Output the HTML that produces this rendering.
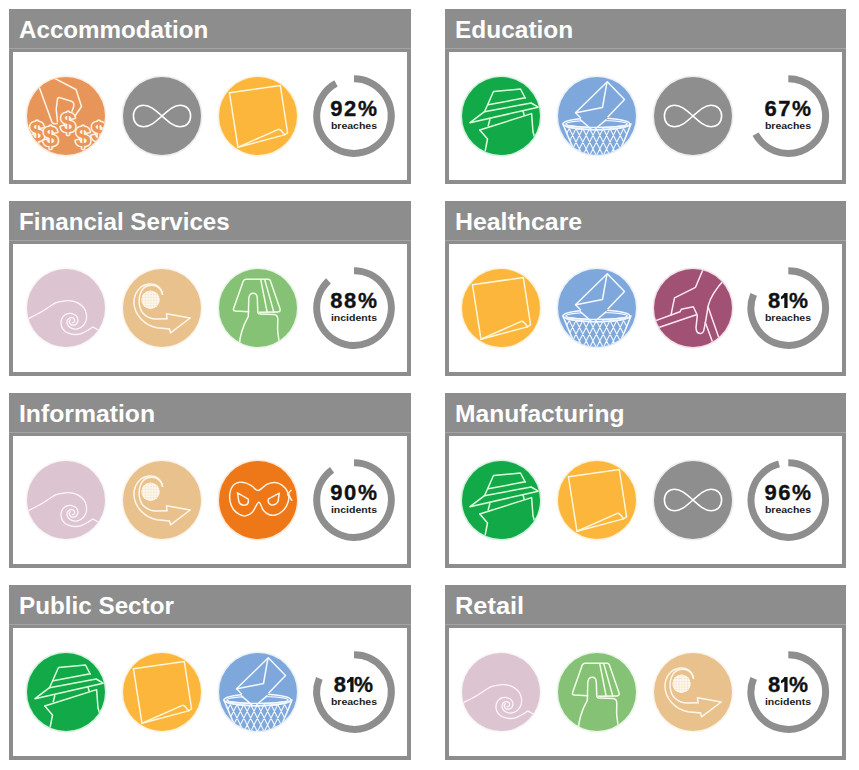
<!DOCTYPE html>
<html><head><meta charset="utf-8"><style>
html,body{margin:0;padding:0;background:#fff;}
body{width:859px;height:770px;position:relative;overflow:hidden;font-family:"Liberation Sans",sans-serif;}
.hd{position:absolute;height:39px;width:402px;background:#8d8d8d;}
.r .hd,.r.hd{width:401px;}
.hd span{position:absolute;left:9.9px;top:7.4px;font-size:24px;font-weight:bold;color:#fff;line-height:28px;white-space:nowrap;letter-spacing:0px;transform-origin:0 0;}
.r .hd span,.hd.r span{left:10.1px;}
.bx{position:absolute;width:394px;height:128px;border:4px solid #8d8d8d;}
.bx.r{width:393px;}
.ln.r{width:401px;}
.pct{position:absolute;width:80px;text-align:center;font-weight:bold;color:#111;white-space:nowrap;}
.pct .n{position:absolute;left:0;width:80px;font-size:22px;line-height:20px;letter-spacing:1.6px;-webkit-text-stroke:0.35px #111;}
.pct .one{display:inline-block;vertical-align:baseline;margin-left:-1.6px;}
.pct .pc{display:inline-block;transform:scaleX(0.97);transform-origin:0 0;margin-right:-2.2px;}
.pct .l{position:absolute;left:0;width:80px;font-size:9.4px;line-height:10px;transform:scaleX(1.12);color:#1a1a1a;}
svg.rg{position:absolute;left:0;top:0;}
.ln{position:absolute;width:402px;height:1px;background:#a4a4a4;}
.ci{position:absolute;width:78px;height:78px;border-radius:50%;overflow:hidden;}
.ci svg{position:absolute;left:0;top:0;}
.dl text{fill:#e8955a;stroke:#fff3e6;}
</style></head><body>

<div class="hd" style="left:9px;top:9px"><span style="transform:scaleX(1.007)">Accommodation</span></div>
<div class="bx" style="left:9px;top:48px"></div><div class="ln" style="left:9px;top:48px"></div>
<div class="ci ic-hand" style="left:27.00px;top:76.80px;background:#e8955a;box-shadow:0 0 0 1.6px rgba(232,149,90,0.16)"><svg width="78" height="78" viewBox="-5.0 -3.0 780 780"><g fill="none" stroke="#fff3e6" stroke-linejoin="round" stroke-linecap="round"><path d="M110,80 L245,450 Q258,472 298,462" stroke-width="15" /><path d="M262,5 L485,122 L540,292 L478,382" stroke-width="15" /><path d="M300,445 L287,320 L300,215 Q306,198 326,204 L440,240 Q470,252 462,292 L445,340" stroke-width="15" /><g class="dl"><text x="95" y="640" font-family="Liberation Sans" font-weight="bold" font-size="270" text-anchor="middle" stroke-width="30" paint-order="stroke">$</text><text x="230" y="690" font-family="Liberation Sans" font-weight="bold" font-size="270" text-anchor="middle" stroke-width="30" paint-order="stroke">$</text><text x="555" y="690" font-family="Liberation Sans" font-weight="bold" font-size="270" text-anchor="middle" stroke-width="30" paint-order="stroke">$</text><text x="712" y="640" font-family="Liberation Sans" font-weight="bold" font-size="270" text-anchor="middle" stroke-width="30" paint-order="stroke">$</text><text x="405" y="545" font-family="Liberation Sans" font-weight="bold" font-size="270" text-anchor="middle" stroke-width="30" paint-order="stroke">$</text></g></g></svg></div>
<div class="ci ic-inf" style="left:123.00px;top:76.80px;background:#8e8e8e;box-shadow:0 0 0 1.6px rgba(142,142,142,0.16)"><svg width="78" height="78" viewBox="-10.0 -3.0 780 780"><g fill="none" stroke="#ffffff" stroke-linejoin="round" stroke-linecap="round"><path d="M380,387 C450,325 500,279 560,279 C625,279 666,325 666,387 C666,449 625,495 560,495 C500,495 450,449 380,387 C310,325 260,279 195,279 C135,279 94,325 94,387 C94,449 135,495 195,495 C260,495 310,449 380,387 Z" stroke-width="16" /></g></svg></div>
<div class="ci ic-paper" style="left:218.70px;top:76.80px;background:#fbb63b;box-shadow:0 0 0 1.6px rgba(251,182,59,0.16)"><svg width="78" height="78" viewBox="-3.0 -3.0 780 780"><g fill="none" stroke="#fff6dc" stroke-linejoin="round" stroke-linecap="round"><path d="M101,154 L610,82 L683,555 L651,576 L187,700 Z" stroke-width="15" /><path d="M187,700 L596,518 Q628,530 651,576" stroke-width="15" /></g></svg></div>
<div class="pct" style="left:313.5px;top:9px"><div class="n" style="top:90.1px">92<span class="pc">%</span></div><div class="l" style="top:111.6px">breaches</div></div>
<div class="hd r" style="left:445px;top:9px"><span style="transform:scaleX(1.019)">Education</span></div>
<div class="bx r" style="left:445px;top:48px"></div><div class="ln r" style="left:445px;top:48px"></div>
<div class="ci ic-spy" style="left:462.00px;top:76.80px;background:#12aa48;box-shadow:0 0 0 1.6px rgba(18,170,72,0.16)"><svg width="78" height="78" viewBox="-10.0 -10.0 780 780"><g fill="none" stroke="#dcffdc" stroke-linejoin="round" stroke-linecap="round"><path d="M215,337 L305,135 L575,110 L622,200" stroke-width="15" /><path d="M252,268 L622,198" stroke-width="15" /><path d="M70,447 L215,337 L682,250 L752,292 Z" stroke-width="15" /><path d="M600,330 L612,372" stroke-width="15" /><path d="M268,418 L252,478" stroke-width="15" /><path d="M168,520 L686,356 L700,540 L716,590" stroke-width="15" /><path d="M168,520 L245,610 L222,730" stroke-width="15" /></g></svg></div>
<div class="ci ic-env" style="left:558.00px;top:76.80px;background:#7ea7dc;box-shadow:0 0 0 1.6px rgba(126,167,220,0.16)"><svg width="78" height="78" viewBox="-10.0 -3.0 780 780"><g fill="none" stroke="#f4f8ff" stroke-linejoin="round" stroke-linecap="round"><path d="M102.0,512 L246.0,800 M102.0,512 L81.0,554 M170.0,512 L314.0,800 M170.0,512 L112.0,628 M238.0,512 L382.0,800 M238.0,512 L144.0,700 M306.0,512 L450.0,800 M306.0,512 L176.0,772 M374.0,512 L518.0,800 M374.0,512 L230.0,800 M442.0,512 L578.0,784 M442.0,512 L298.0,800 M510.0,512 L611.0,714 M510.0,512 L366.0,800 M578.0,512 L642.0,640 M578.0,512 L434.0,800 M646.0,512 L674.0,568 M646.0,512 L502.0,800 M595.0,750 L570.0,800" stroke-width="11" /><path d="M40.0,466 L47.8,486 L55.7,506 L63.7,526 L71.8,546 L80.0,566 L88.3,586 L96.7,606 L105.2,626 L113.8,646 L122.5,666 L131.3,686 L140.1,706 L149.1,726 L158.2,746 L167.3,766 L176.6,786" stroke-width="15" /><path d="M720.0,466 L712.2,486 L704.3,506 L696.3,526 L688.2,546 L680.0,566 L671.7,586 L663.3,606 L654.8,626 L646.2,646 L637.5,666 L628.7,686 L619.9,706 L610.9,726 L601.8,746 L592.7,766 L583.4,786" stroke-width="15" /><path d="M40,466 A334,58 0 1 0 708,466 A334,58 0 1 0 40,466 Z" stroke-width="15" /><path d="M70,466 A305,34 0 1 0 680,466 A305,34 0 1 0 70,466 Z" stroke-width="12" /><path d="M215,402 L165,355 L483,45 L655,222 L490,395 L470,426 L367,515 L314,515 L215,426 Z" fill="#7ea7dc" stroke="none"/><path d="M215,404 L165,355 L483,45 L655,222 L490,395" stroke-width="15" /><path d="M170,355 L435,302 L478,58" stroke-width="15" /><path d="M215,426 L318,515" stroke-width="15" /><path d="M470,426 L365,515" stroke-width="15" /><path d="M40,466 A334,58 0 0 0 708,466" stroke-width="15" /><path d="M70,466 A305,34 0 0 0 680,466" stroke-width="12" /></g></svg></div>
<div class="ci ic-inf" style="left:653.50px;top:76.80px;background:#8e8e8e;box-shadow:0 0 0 1.6px rgba(142,142,142,0.16)"><svg width="78" height="78" viewBox="-10.0 -3.0 780 780"><g fill="none" stroke="#ffffff" stroke-linejoin="round" stroke-linecap="round"><path d="M380,387 C450,325 500,279 560,279 C625,279 666,325 666,387 C666,449 625,495 560,495 C500,495 450,449 380,387 C310,325 260,279 195,279 C135,279 94,325 94,387 C94,449 135,495 195,495 C260,495 310,449 380,387 Z" stroke-width="16" /></g></svg></div>
<div class="pct" style="left:747.8px;top:9px"><div class="n" style="top:90.1px">67<span class="pc">%</span></div><div class="l" style="top:111.6px">breaches</div></div>
<div class="hd" style="left:9px;top:201px"><span style="transform:scaleX(1.006)">Financial Services</span></div>
<div class="bx" style="left:9px;top:240px"></div><div class="ln" style="left:9px;top:240px"></div>
<div class="ci ic-wave" style="left:27.00px;top:268.80px;background:#dcc4d1;box-shadow:0 0 0 1.6px rgba(220,196,209,0.16)"><svg width="78" height="78" viewBox="-5.0 -3.0 780 780"><g fill="none" stroke="#fff4f8" stroke-linejoin="round" stroke-linecap="round"><path d="M5.0,495.0 C29.2,482.5 104.2,446.7 150.0,420.0 C195.8,393.3 241.8,352.4 280.0,335.0 C318.2,317.6 356.8,318.9 379.5,315.4 C402.2,311.8 404.3,313.2 416.4,313.7 C428.5,314.1 440.5,315.9 451.9,318.2 C463.4,320.6 474.6,323.8 485.2,327.9 C495.8,332.0 505.9,337.1 515.3,342.9 C524.7,348.7 533.6,355.3 541.6,362.5 C549.5,369.6 557.1,377.3 563.2,385.7 C569.4,394.1 574.4,403.5 578.5,412.7 C582.5,422.0 585.4,431.7 587.5,441.2 C589.6,450.7 590.6,460.3 590.9,469.6 C591.1,478.9 590.4,488.1 589.0,496.8 C587.5,505.5 585.2,513.9 582.3,521.8 C579.3,529.6 575.5,537.1 571.3,543.8 C567.1,550.6 562.2,556.8 557.1,562.3 C552.0,567.8 546.3,572.6 540.6,576.7 C534.8,580.8 528.6,584.1 522.6,586.9 C516.7,589.8 510.8,592.1 505.0,593.8 C499.2,595.6 493.4,596.8 487.7,597.4 C482.1,598.0 476.5,598.0 471.1,597.5 C465.8,597.0 460.7,595.8 455.9,594.4 C451.1,593.0 446.7,590.9 442.5,589.3 C438.3,587.6 434.3,586.4 430.7,584.5 C427.0,582.6 423.5,580.3 420.4,577.9 C417.3,575.4 414.4,572.7 412.0,569.9 C409.5,567.0 407.4,563.9 405.5,560.8 C403.6,557.8 401.9,554.8 400.5,551.8 C399.1,548.7 398.0,545.6 397.1,542.5 C396.3,539.3 395.8,536.2 395.5,533.1 C395.3,530.0 395.4,526.9 395.7,523.9 C396.0,521.0 396.6,518.1 397.4,515.3 C398.1,512.6 399.0,509.9 400.1,507.5 C401.3,505.0 402.6,502.6 404.1,500.5 C405.6,498.3 407.3,496.3 409.1,494.6 C410.9,492.8 412.9,491.3 414.9,489.9 C416.8,488.5 418.9,487.2 420.9,486.2 C423.0,485.2 425.2,484.3 427.3,483.7 C429.4,483.0 431.6,482.6 433.8,482.4 C435.9,482.1 438.0,482.1 440.1,482.3 C442.2,482.4 444.2,482.8 446.2,483.2 C448.1,483.6 450.0,484.1 451.8,484.8 C453.7,485.5 455.4,486.3 457.0,487.3 C458.6,488.3 460.1,489.4 461.5,490.6 C462.9,491.8 464.1,493.1 465.3,494.5 C466.4,495.9 467.3,497.4 468.2,498.9 C469.0,500.4 469.6,502.0 470.2,503.6 C470.7,505.2 471.0,506.9 471.2,508.5 C471.5,510.1 471.5,511.7 471.5,513.3 C471.4,514.9 471.1,516.4 470.8,517.9 C470.4,519.4 469.8,520.8 469.1,522.1 C468.5,523.4 467.7,524.7 466.8,525.8 C466.0,527.0 465.0,528.0 464.0,528.9 C463.0,529.8 462.0,530.6 460.9,531.3 C459.7,531.9 458.5,532.4 457.4,532.8 C456.2,533.2 455.0,533.4 453.8,533.5 C452.6,533.7 451.5,533.7 450.4,533.5 C449.3,533.4 447.8,533.0 447.2,532.9" stroke-width="13" /><path d="M730,618 L695,600 L651.7,576.3 C645.9,580.4 628.3,593.9 617.3,601.0 C606.3,608.2 595.6,613.8 585.7,619.2 C575.8,624.7 566.8,629.4 557.7,633.7 C548.6,637.9 540.0,641.9 531.1,644.7 C522.2,647.4 513.1,649.0 504.3,650.2 C495.6,651.4 487.0,652.2 478.7,652.0 C470.3,651.8 462.1,650.4 454.3,649.3 C446.4,648.2 438.9,646.9 431.5,645.2 C424.1,643.6 416.9,641.8 410.0,639.2 C403.0,636.6 396.3,633.4 390.0,629.7 C383.8,626.0 377.8,621.7 372.3,617.0 C366.9,612.3 361.8,607.1 357.4,601.5 C353.1,596.0 349.6,589.7 346.5,583.4 C343.4,577.2 341.0,570.7 339.1,564.2 C337.2,557.6 336.0,550.9 335.3,544.3 C334.7,537.8 334.5,531.1 335.1,524.7 C335.7,518.3 337.0,511.9 338.9,505.8 C340.7,499.8 343.2,494.0 346.0,488.6 C348.9,483.2 352.2,478.1 355.9,473.5 C359.5,468.9 363.6,464.7 367.8,460.9 C372.1,457.2 376.7,453.8 381.4,451.1 C386.1,448.4 391.2,446.3 396.2,444.6 C401.1,442.9 406.2,441.7 411.2,441.1 C416.1,440.4 421.1,440.2 425.9,440.4 C430.7,440.7 435.4,441.7 439.8,442.5 C444.2,443.3 448.4,444.3 452.5,445.5 C456.6,446.6 460.6,447.9 464.3,449.6 C468.1,451.2 471.7,453.3 475.0,455.5 C478.3,457.8 481.4,460.4 484.1,463.1 C486.9,465.9 489.4,468.9 491.7,471.9 C493.9,475.0 496.0,478.2 497.7,481.5 C499.4,484.8 500.8,488.2 501.8,491.7 C502.9,495.2 503.6,498.8 504.1,502.3 C504.5,505.8 504.7,509.4 504.4,512.8 C504.1,516.3 503.4,519.8 502.5,523.0 C501.5,526.3 500.2,529.5 498.6,532.4 C497.1,535.3 495.3,538.1 493.4,540.6 C491.4,543.1 489.2,545.4 486.9,547.4 C484.6,549.5 482.1,551.3 479.6,552.8 C477.1,554.4 474.4,555.6 471.7,556.6 C469.1,557.6 466.3,558.4 463.6,558.8 C460.9,559.3 458.2,559.5 455.6,559.5 C453.0,559.5 450.4,559.2 447.9,558.7 C445.5,558.2 443.1,557.5 440.8,556.6 C438.6,555.7 436.5,554.6 434.6,553.3 C432.7,552.1 430.9,550.7 429.3,549.2 C427.7,547.7 426.3,546.0 425.1,544.3 C423.9,542.7 423.0,540.9 422.1,539.1 C421.2,537.4 420.4,535.7 419.9,533.9 C419.3,532.2 419.0,530.4 418.8,528.7 C418.5,527.0 418.5,525.2 418.6,523.6 C418.7,521.9 419.1,520.3 419.4,518.8 C419.8,517.3 420.3,515.8 420.8,514.5 C421.3,513.1 422.0,511.8 422.7,510.6 C423.4,509.4 424.2,508.3 425.1,507.3 C426.0,506.3 427.5,505.1 428.0,504.7" stroke-width="13" /></g></svg></div>
<div class="ci ic-arrow" style="left:123.00px;top:268.80px;background:#e8c18c;box-shadow:0 0 0 1.6px rgba(232,193,140,0.16)"><svg width="78" height="78" viewBox="-10.0 -3.0 780 780"><g fill="none" stroke="#fff6e8" stroke-linejoin="round" stroke-linecap="round"><circle cx="265" cy="305" r="92" fill="#fffaf2" stroke="none"/><path d="M185,279.4 L185,330.6 M239.4,225 L290.6,225 M213,239.0 L213,371.0 M199.0,253 L331.0,253 M241,224.5 L241,385.5 M184.5,281 L345.5,281 M269,221.1 L269,388.9 M181.1,309 L348.9,309 M297,227.3 L297,382.7 M187.3,337 L342.7,337 M325,246.2 L325,363.8 M206.2,365 L323.8,365" stroke="#f1dcc0" stroke-width="5"/><path d="M385,250 C370,170 300,150 240,165 C170,185 140,270 155,360 C170,450 240,495 320,497 L430,495" stroke-width="15" /><path d="M385,250 C375,180 320,140 250,148 C150,158 95,250 100,340 C105,450 200,560 330,585 L455,597" stroke-width="15" /><path d="M430,495 L425,445 L662,487 L465,635 L455,597" stroke-width="15" /></g></svg></div>
<div class="ci ic-card" style="left:218.70px;top:268.80px;background:#85c275;box-shadow:0 0 0 1.6px rgba(133,194,117,0.16)"><svg width="78" height="78" viewBox="-3.0 -3.0 780 780"><g fill="none" stroke="#f2ffe8" stroke-linejoin="round" stroke-linecap="round"><path d="M295,425 L162,418 Q135,415 143,392 L240,118 Q248,100 268,100 L490,100 Q505,100 511,116 L607,395 Q614,425 588,426 L400,430" stroke-width="15" /><path d="M415,106 L478,425" stroke-width="15" /><path d="M455,106 L545,428" stroke-width="15" /><path d="M200,760 C205,650 240,560 290,470 L295,290 Q300,240 340,240 Q378,240 380,290 L385,430 Q388,448 410,448 L548,452 Q585,455 585,500 L583,590 Q585,650 605,760" stroke-width="15" /></g></svg></div>
<div class="pct" style="left:313.5px;top:201px"><div class="n" style="top:90.1px">88<span class="pc">%</span></div><div class="l" style="top:111.6px">incidents</div></div>
<div class="hd r" style="left:445px;top:201px"><span style="transform:scaleX(1.036)">Healthcare</span></div>
<div class="bx r" style="left:445px;top:240px"></div><div class="ln r" style="left:445px;top:240px"></div>
<div class="ci ic-paper" style="left:462.00px;top:268.80px;background:#fbb63b;box-shadow:0 0 0 1.6px rgba(251,182,59,0.16)"><svg width="78" height="78" viewBox="-3.0 -3.0 780 780"><g fill="none" stroke="#fff6dc" stroke-linejoin="round" stroke-linecap="round"><path d="M101,154 L610,82 L683,555 L651,576 L187,700 Z" stroke-width="15" /><path d="M187,700 L596,518 Q628,530 651,576" stroke-width="15" /></g></svg></div>
<div class="ci ic-env" style="left:558.00px;top:268.80px;background:#7ea7dc;box-shadow:0 0 0 1.6px rgba(126,167,220,0.16)"><svg width="78" height="78" viewBox="-10.0 -3.0 780 780"><g fill="none" stroke="#f4f8ff" stroke-linejoin="round" stroke-linecap="round"><path d="M102.0,512 L246.0,800 M102.0,512 L81.0,554 M170.0,512 L314.0,800 M170.0,512 L112.0,628 M238.0,512 L382.0,800 M238.0,512 L144.0,700 M306.0,512 L450.0,800 M306.0,512 L176.0,772 M374.0,512 L518.0,800 M374.0,512 L230.0,800 M442.0,512 L578.0,784 M442.0,512 L298.0,800 M510.0,512 L611.0,714 M510.0,512 L366.0,800 M578.0,512 L642.0,640 M578.0,512 L434.0,800 M646.0,512 L674.0,568 M646.0,512 L502.0,800 M595.0,750 L570.0,800" stroke-width="11" /><path d="M40.0,466 L47.8,486 L55.7,506 L63.7,526 L71.8,546 L80.0,566 L88.3,586 L96.7,606 L105.2,626 L113.8,646 L122.5,666 L131.3,686 L140.1,706 L149.1,726 L158.2,746 L167.3,766 L176.6,786" stroke-width="15" /><path d="M720.0,466 L712.2,486 L704.3,506 L696.3,526 L688.2,546 L680.0,566 L671.7,586 L663.3,606 L654.8,626 L646.2,646 L637.5,666 L628.7,686 L619.9,706 L610.9,726 L601.8,746 L592.7,766 L583.4,786" stroke-width="15" /><path d="M40,466 A334,58 0 1 0 708,466 A334,58 0 1 0 40,466 Z" stroke-width="15" /><path d="M70,466 A305,34 0 1 0 680,466 A305,34 0 1 0 70,466 Z" stroke-width="12" /><path d="M215,402 L165,355 L483,45 L655,222 L490,395 L470,426 L367,515 L314,515 L215,426 Z" fill="#7ea7dc" stroke="none"/><path d="M215,404 L165,355 L483,45 L655,222 L490,395" stroke-width="15" /><path d="M170,355 L435,302 L478,58" stroke-width="15" /><path d="M215,426 L318,515" stroke-width="15" /><path d="M470,426 L365,515" stroke-width="15" /><path d="M40,466 A334,58 0 0 0 708,466" stroke-width="15" /><path d="M70,466 A305,34 0 0 0 680,466" stroke-width="12" /></g></svg></div>
<div class="ci ic-grab" style="left:653.50px;top:268.80px;background:#a15174;box-shadow:0 0 0 1.6px rgba(161,81,116,0.16)"><svg width="78" height="78" viewBox="-5.0 -3.0 780 780"><g fill="none" stroke="#ffe8f2" stroke-linejoin="round" stroke-linecap="round"><path d="M490,-10 L410,180 L200,285 L165,455" stroke-width="15" /><path d="M-10,522 L255,425 L268,400 L388,375 L425,452 L428,464 L415,583 Q418,642 458,642 Q492,640 495,600 L512,515 L537,363 Q565,250 700,100" stroke-width="15" /><path d="M20,590 L418,455" stroke-width="15" /><path d="M537,380 L645,690" stroke-width="15" /><path d="M508,532 L585,740" stroke-width="15" /></g></svg></div>
<div class="pct" style="left:747.8px;top:201px"><div class="n" style="top:90.1px">8<svg class="one" width="8.4" height="15.0" viewBox="0 0 8.4 15.0"><path d="M4.3,0 L7.6,0 L7.6,15.0 L4.3,15.0 L4.3,4.6 Q2.9,5.7 1.0,6.3 L1.0,3.7 Q3.2,2.6 4.3,0 Z" fill="#111"/></svg><span class="pc">%</span></div><div class="l" style="top:111.6px">breaches</div></div>
<div class="hd" style="left:9px;top:393px"><span style="transform:scaleX(1.031)">Information</span></div>
<div class="bx" style="left:9px;top:432px"></div><div class="ln" style="left:9px;top:432px"></div>
<div class="ci ic-wave" style="left:27.00px;top:460.80px;background:#dcc4d1;box-shadow:0 0 0 1.6px rgba(220,196,209,0.16)"><svg width="78" height="78" viewBox="-5.0 -3.0 780 780"><g fill="none" stroke="#fff4f8" stroke-linejoin="round" stroke-linecap="round"><path d="M5.0,495.0 C29.2,482.5 104.2,446.7 150.0,420.0 C195.8,393.3 241.8,352.4 280.0,335.0 C318.2,317.6 356.8,318.9 379.5,315.4 C402.2,311.8 404.3,313.2 416.4,313.7 C428.5,314.1 440.5,315.9 451.9,318.2 C463.4,320.6 474.6,323.8 485.2,327.9 C495.8,332.0 505.9,337.1 515.3,342.9 C524.7,348.7 533.6,355.3 541.6,362.5 C549.5,369.6 557.1,377.3 563.2,385.7 C569.4,394.1 574.4,403.5 578.5,412.7 C582.5,422.0 585.4,431.7 587.5,441.2 C589.6,450.7 590.6,460.3 590.9,469.6 C591.1,478.9 590.4,488.1 589.0,496.8 C587.5,505.5 585.2,513.9 582.3,521.8 C579.3,529.6 575.5,537.1 571.3,543.8 C567.1,550.6 562.2,556.8 557.1,562.3 C552.0,567.8 546.3,572.6 540.6,576.7 C534.8,580.8 528.6,584.1 522.6,586.9 C516.7,589.8 510.8,592.1 505.0,593.8 C499.2,595.6 493.4,596.8 487.7,597.4 C482.1,598.0 476.5,598.0 471.1,597.5 C465.8,597.0 460.7,595.8 455.9,594.4 C451.1,593.0 446.7,590.9 442.5,589.3 C438.3,587.6 434.3,586.4 430.7,584.5 C427.0,582.6 423.5,580.3 420.4,577.9 C417.3,575.4 414.4,572.7 412.0,569.9 C409.5,567.0 407.4,563.9 405.5,560.8 C403.6,557.8 401.9,554.8 400.5,551.8 C399.1,548.7 398.0,545.6 397.1,542.5 C396.3,539.3 395.8,536.2 395.5,533.1 C395.3,530.0 395.4,526.9 395.7,523.9 C396.0,521.0 396.6,518.1 397.4,515.3 C398.1,512.6 399.0,509.9 400.1,507.5 C401.3,505.0 402.6,502.6 404.1,500.5 C405.6,498.3 407.3,496.3 409.1,494.6 C410.9,492.8 412.9,491.3 414.9,489.9 C416.8,488.5 418.9,487.2 420.9,486.2 C423.0,485.2 425.2,484.3 427.3,483.7 C429.4,483.0 431.6,482.6 433.8,482.4 C435.9,482.1 438.0,482.1 440.1,482.3 C442.2,482.4 444.2,482.8 446.2,483.2 C448.1,483.6 450.0,484.1 451.8,484.8 C453.7,485.5 455.4,486.3 457.0,487.3 C458.6,488.3 460.1,489.4 461.5,490.6 C462.9,491.8 464.1,493.1 465.3,494.5 C466.4,495.9 467.3,497.4 468.2,498.9 C469.0,500.4 469.6,502.0 470.2,503.6 C470.7,505.2 471.0,506.9 471.2,508.5 C471.5,510.1 471.5,511.7 471.5,513.3 C471.4,514.9 471.1,516.4 470.8,517.9 C470.4,519.4 469.8,520.8 469.1,522.1 C468.5,523.4 467.7,524.7 466.8,525.8 C466.0,527.0 465.0,528.0 464.0,528.9 C463.0,529.8 462.0,530.6 460.9,531.3 C459.7,531.9 458.5,532.4 457.4,532.8 C456.2,533.2 455.0,533.4 453.8,533.5 C452.6,533.7 451.5,533.7 450.4,533.5 C449.3,533.4 447.8,533.0 447.2,532.9" stroke-width="13" /><path d="M730,618 L695,600 L651.7,576.3 C645.9,580.4 628.3,593.9 617.3,601.0 C606.3,608.2 595.6,613.8 585.7,619.2 C575.8,624.7 566.8,629.4 557.7,633.7 C548.6,637.9 540.0,641.9 531.1,644.7 C522.2,647.4 513.1,649.0 504.3,650.2 C495.6,651.4 487.0,652.2 478.7,652.0 C470.3,651.8 462.1,650.4 454.3,649.3 C446.4,648.2 438.9,646.9 431.5,645.2 C424.1,643.6 416.9,641.8 410.0,639.2 C403.0,636.6 396.3,633.4 390.0,629.7 C383.8,626.0 377.8,621.7 372.3,617.0 C366.9,612.3 361.8,607.1 357.4,601.5 C353.1,596.0 349.6,589.7 346.5,583.4 C343.4,577.2 341.0,570.7 339.1,564.2 C337.2,557.6 336.0,550.9 335.3,544.3 C334.7,537.8 334.5,531.1 335.1,524.7 C335.7,518.3 337.0,511.9 338.9,505.8 C340.7,499.8 343.2,494.0 346.0,488.6 C348.9,483.2 352.2,478.1 355.9,473.5 C359.5,468.9 363.6,464.7 367.8,460.9 C372.1,457.2 376.7,453.8 381.4,451.1 C386.1,448.4 391.2,446.3 396.2,444.6 C401.1,442.9 406.2,441.7 411.2,441.1 C416.1,440.4 421.1,440.2 425.9,440.4 C430.7,440.7 435.4,441.7 439.8,442.5 C444.2,443.3 448.4,444.3 452.5,445.5 C456.6,446.6 460.6,447.9 464.3,449.6 C468.1,451.2 471.7,453.3 475.0,455.5 C478.3,457.8 481.4,460.4 484.1,463.1 C486.9,465.9 489.4,468.9 491.7,471.9 C493.9,475.0 496.0,478.2 497.7,481.5 C499.4,484.8 500.8,488.2 501.8,491.7 C502.9,495.2 503.6,498.8 504.1,502.3 C504.5,505.8 504.7,509.4 504.4,512.8 C504.1,516.3 503.4,519.8 502.5,523.0 C501.5,526.3 500.2,529.5 498.6,532.4 C497.1,535.3 495.3,538.1 493.4,540.6 C491.4,543.1 489.2,545.4 486.9,547.4 C484.6,549.5 482.1,551.3 479.6,552.8 C477.1,554.4 474.4,555.6 471.7,556.6 C469.1,557.6 466.3,558.4 463.6,558.8 C460.9,559.3 458.2,559.5 455.6,559.5 C453.0,559.5 450.4,559.2 447.9,558.7 C445.5,558.2 443.1,557.5 440.8,556.6 C438.6,555.7 436.5,554.6 434.6,553.3 C432.7,552.1 430.9,550.7 429.3,549.2 C427.7,547.7 426.3,546.0 425.1,544.3 C423.9,542.7 423.0,540.9 422.1,539.1 C421.2,537.4 420.4,535.7 419.9,533.9 C419.3,532.2 419.0,530.4 418.8,528.7 C418.5,527.0 418.5,525.2 418.6,523.6 C418.7,521.9 419.1,520.3 419.4,518.8 C419.8,517.3 420.3,515.8 420.8,514.5 C421.3,513.1 422.0,511.8 422.7,510.6 C423.4,509.4 424.2,508.3 425.1,507.3 C426.0,506.3 427.5,505.1 428.0,504.7" stroke-width="13" /></g></svg></div>
<div class="ci ic-arrow" style="left:123.00px;top:460.80px;background:#e8c18c;box-shadow:0 0 0 1.6px rgba(232,193,140,0.16)"><svg width="78" height="78" viewBox="-10.0 -3.0 780 780"><g fill="none" stroke="#fff6e8" stroke-linejoin="round" stroke-linecap="round"><circle cx="265" cy="305" r="92" fill="#fffaf2" stroke="none"/><path d="M185,279.4 L185,330.6 M239.4,225 L290.6,225 M213,239.0 L213,371.0 M199.0,253 L331.0,253 M241,224.5 L241,385.5 M184.5,281 L345.5,281 M269,221.1 L269,388.9 M181.1,309 L348.9,309 M297,227.3 L297,382.7 M187.3,337 L342.7,337 M325,246.2 L325,363.8 M206.2,365 L323.8,365" stroke="#f1dcc0" stroke-width="5"/><path d="M385,250 C370,170 300,150 240,165 C170,185 140,270 155,360 C170,450 240,495 320,497 L430,495" stroke-width="15" /><path d="M385,250 C375,180 320,140 250,148 C150,158 95,250 100,340 C105,450 200,560 330,585 L455,597" stroke-width="15" /><path d="M430,495 L425,445 L662,487 L465,635 L455,597" stroke-width="15" /></g></svg></div>
<div class="ci ic-mask" style="left:218.70px;top:460.80px;background:#ee7718;box-shadow:0 0 0 1.6px rgba(238,119,24,0.16)"><svg width="78" height="78" viewBox="-3.0 -3.0 780 780"><g fill="none" stroke="#fff0e0" stroke-linejoin="round" stroke-linecap="round"><path d="M390.0,292.0 C365.0,295.7 350.0,262.3 330.0,250.0 C310.0,237.7 291.7,224.7 270.0,218.0 C248.3,211.3 221.7,206.3 200.0,210.0 C178.3,213.7 155.3,223.3 140.0,240.0 C124.7,256.7 113.3,283.3 108.0,310.0 C102.7,336.7 102.7,371.7 108.0,400.0 C113.3,428.3 124.7,458.3 140.0,480.0 C155.3,501.7 179.2,519.2 200.0,530.0 C220.8,540.8 243.3,548.3 265.0,545.0 C286.7,541.7 308.3,532.5 330.0,510.0 C351.7,487.5 376.7,413.3 395.0,410.0 C413.3,406.7 422.5,469.2 440.0,490.0 C457.5,510.8 478.3,527.5 500.0,535.0 C521.7,542.5 548.3,540.8 570.0,535.0 C591.7,529.2 612.5,515.8 630.0,500.0 C647.5,484.2 664.2,461.7 675.0,440.0 C685.8,418.3 694.2,393.3 695.0,370.0 C695.8,346.7 690.8,321.7 680.0,300.0 C669.2,278.3 650.0,254.7 630.0,240.0 C610.0,225.3 585.0,214.0 560.0,212.0 C535.0,210.0 508.3,214.7 480.0,228.0 C451.7,241.3 415.0,288.3 390.0,292.0Z" stroke-width="15" /><path d="M182,315 L290,378 Q300,430 255,440 Q205,440 195,400 Z" stroke-width="15" /><path d="M600,318 L588,400 Q560,445 515,435 Q480,420 492,375 Z" stroke-width="15" /><path d="M718,290 L682,330 L725,390" stroke-width="15" /><path d="M690,315 L705,355" stroke-width="15" /></g></svg></div>
<div class="pct" style="left:313.5px;top:393px"><div class="n" style="top:90.1px">90<span class="pc">%</span></div><div class="l" style="top:111.6px">incidents</div></div>
<div class="hd r" style="left:445px;top:393px"><span style="transform:scaleX(1.025)">Manufacturing</span></div>
<div class="bx r" style="left:445px;top:432px"></div><div class="ln r" style="left:445px;top:432px"></div>
<div class="ci ic-spy" style="left:462.00px;top:460.80px;background:#12aa48;box-shadow:0 0 0 1.6px rgba(18,170,72,0.16)"><svg width="78" height="78" viewBox="-10.0 -10.0 780 780"><g fill="none" stroke="#dcffdc" stroke-linejoin="round" stroke-linecap="round"><path d="M215,337 L305,135 L575,110 L622,200" stroke-width="15" /><path d="M252,268 L622,198" stroke-width="15" /><path d="M70,447 L215,337 L682,250 L752,292 Z" stroke-width="15" /><path d="M600,330 L612,372" stroke-width="15" /><path d="M268,418 L252,478" stroke-width="15" /><path d="M168,520 L686,356 L700,540 L716,590" stroke-width="15" /><path d="M168,520 L245,610 L222,730" stroke-width="15" /></g></svg></div>
<div class="ci ic-paper" style="left:558.00px;top:460.80px;background:#fbb63b;box-shadow:0 0 0 1.6px rgba(251,182,59,0.16)"><svg width="78" height="78" viewBox="-3.0 -3.0 780 780"><g fill="none" stroke="#fff6dc" stroke-linejoin="round" stroke-linecap="round"><path d="M101,154 L610,82 L683,555 L651,576 L187,700 Z" stroke-width="15" /><path d="M187,700 L596,518 Q628,530 651,576" stroke-width="15" /></g></svg></div>
<div class="ci ic-inf" style="left:653.50px;top:460.80px;background:#8e8e8e;box-shadow:0 0 0 1.6px rgba(142,142,142,0.16)"><svg width="78" height="78" viewBox="-10.0 -3.0 780 780"><g fill="none" stroke="#ffffff" stroke-linejoin="round" stroke-linecap="round"><path d="M380,387 C450,325 500,279 560,279 C625,279 666,325 666,387 C666,449 625,495 560,495 C500,495 450,449 380,387 C310,325 260,279 195,279 C135,279 94,325 94,387 C94,449 135,495 195,495 C260,495 310,449 380,387 Z" stroke-width="16" /></g></svg></div>
<div class="pct" style="left:747.8px;top:393px"><div class="n" style="top:90.1px">96<span class="pc">%</span></div><div class="l" style="top:111.6px">breaches</div></div>
<div class="hd" style="left:9px;top:585px"><span style="transform:scaleX(1.01)">Public Sector</span></div>
<div class="bx" style="left:9px;top:624px"></div><div class="ln" style="left:9px;top:624px"></div>
<div class="ci ic-spy" style="left:27.00px;top:652.80px;background:#12aa48;box-shadow:0 0 0 1.6px rgba(18,170,72,0.16)"><svg width="78" height="78" viewBox="-10.0 -10.0 780 780"><g fill="none" stroke="#dcffdc" stroke-linejoin="round" stroke-linecap="round"><path d="M215,337 L305,135 L575,110 L622,200" stroke-width="15" /><path d="M252,268 L622,198" stroke-width="15" /><path d="M70,447 L215,337 L682,250 L752,292 Z" stroke-width="15" /><path d="M600,330 L612,372" stroke-width="15" /><path d="M268,418 L252,478" stroke-width="15" /><path d="M168,520 L686,356 L700,540 L716,590" stroke-width="15" /><path d="M168,520 L245,610 L222,730" stroke-width="15" /></g></svg></div>
<div class="ci ic-paper" style="left:123.00px;top:652.80px;background:#fbb63b;box-shadow:0 0 0 1.6px rgba(251,182,59,0.16)"><svg width="78" height="78" viewBox="-3.0 -3.0 780 780"><g fill="none" stroke="#fff6dc" stroke-linejoin="round" stroke-linecap="round"><path d="M101,154 L610,82 L683,555 L651,576 L187,700 Z" stroke-width="15" /><path d="M187,700 L596,518 Q628,530 651,576" stroke-width="15" /></g></svg></div>
<div class="ci ic-env" style="left:218.70px;top:652.80px;background:#7ea7dc;box-shadow:0 0 0 1.6px rgba(126,167,220,0.16)"><svg width="78" height="78" viewBox="-10.0 -3.0 780 780"><g fill="none" stroke="#f4f8ff" stroke-linejoin="round" stroke-linecap="round"><path d="M102.0,512 L246.0,800 M102.0,512 L81.0,554 M170.0,512 L314.0,800 M170.0,512 L112.0,628 M238.0,512 L382.0,800 M238.0,512 L144.0,700 M306.0,512 L450.0,800 M306.0,512 L176.0,772 M374.0,512 L518.0,800 M374.0,512 L230.0,800 M442.0,512 L578.0,784 M442.0,512 L298.0,800 M510.0,512 L611.0,714 M510.0,512 L366.0,800 M578.0,512 L642.0,640 M578.0,512 L434.0,800 M646.0,512 L674.0,568 M646.0,512 L502.0,800 M595.0,750 L570.0,800" stroke-width="11" /><path d="M40.0,466 L47.8,486 L55.7,506 L63.7,526 L71.8,546 L80.0,566 L88.3,586 L96.7,606 L105.2,626 L113.8,646 L122.5,666 L131.3,686 L140.1,706 L149.1,726 L158.2,746 L167.3,766 L176.6,786" stroke-width="15" /><path d="M720.0,466 L712.2,486 L704.3,506 L696.3,526 L688.2,546 L680.0,566 L671.7,586 L663.3,606 L654.8,626 L646.2,646 L637.5,666 L628.7,686 L619.9,706 L610.9,726 L601.8,746 L592.7,766 L583.4,786" stroke-width="15" /><path d="M40,466 A334,58 0 1 0 708,466 A334,58 0 1 0 40,466 Z" stroke-width="15" /><path d="M70,466 A305,34 0 1 0 680,466 A305,34 0 1 0 70,466 Z" stroke-width="12" /><path d="M215,402 L165,355 L483,45 L655,222 L490,395 L470,426 L367,515 L314,515 L215,426 Z" fill="#7ea7dc" stroke="none"/><path d="M215,404 L165,355 L483,45 L655,222 L490,395" stroke-width="15" /><path d="M170,355 L435,302 L478,58" stroke-width="15" /><path d="M215,426 L318,515" stroke-width="15" /><path d="M470,426 L365,515" stroke-width="15" /><path d="M40,466 A334,58 0 0 0 708,466" stroke-width="15" /><path d="M70,466 A305,34 0 0 0 680,466" stroke-width="12" /></g></svg></div>
<div class="pct" style="left:313.5px;top:585px"><div class="n" style="top:90.1px">8<svg class="one" width="8.4" height="15.0" viewBox="0 0 8.4 15.0"><path d="M4.3,0 L7.6,0 L7.6,15.0 L4.3,15.0 L4.3,4.6 Q2.9,5.7 1.0,6.3 L1.0,3.7 Q3.2,2.6 4.3,0 Z" fill="#111"/></svg><span class="pc">%</span></div><div class="l" style="top:111.6px">breaches</div></div>
<div class="hd r" style="left:445px;top:585px"><span style="transform:scaleX(1.057)">Retail</span></div>
<div class="bx r" style="left:445px;top:624px"></div><div class="ln r" style="left:445px;top:624px"></div>
<div class="ci ic-wave" style="left:462.00px;top:652.80px;background:#dcc4d1;box-shadow:0 0 0 1.6px rgba(220,196,209,0.16)"><svg width="78" height="78" viewBox="-5.0 -3.0 780 780"><g fill="none" stroke="#fff4f8" stroke-linejoin="round" stroke-linecap="round"><path d="M5.0,495.0 C29.2,482.5 104.2,446.7 150.0,420.0 C195.8,393.3 241.8,352.4 280.0,335.0 C318.2,317.6 356.8,318.9 379.5,315.4 C402.2,311.8 404.3,313.2 416.4,313.7 C428.5,314.1 440.5,315.9 451.9,318.2 C463.4,320.6 474.6,323.8 485.2,327.9 C495.8,332.0 505.9,337.1 515.3,342.9 C524.7,348.7 533.6,355.3 541.6,362.5 C549.5,369.6 557.1,377.3 563.2,385.7 C569.4,394.1 574.4,403.5 578.5,412.7 C582.5,422.0 585.4,431.7 587.5,441.2 C589.6,450.7 590.6,460.3 590.9,469.6 C591.1,478.9 590.4,488.1 589.0,496.8 C587.5,505.5 585.2,513.9 582.3,521.8 C579.3,529.6 575.5,537.1 571.3,543.8 C567.1,550.6 562.2,556.8 557.1,562.3 C552.0,567.8 546.3,572.6 540.6,576.7 C534.8,580.8 528.6,584.1 522.6,586.9 C516.7,589.8 510.8,592.1 505.0,593.8 C499.2,595.6 493.4,596.8 487.7,597.4 C482.1,598.0 476.5,598.0 471.1,597.5 C465.8,597.0 460.7,595.8 455.9,594.4 C451.1,593.0 446.7,590.9 442.5,589.3 C438.3,587.6 434.3,586.4 430.7,584.5 C427.0,582.6 423.5,580.3 420.4,577.9 C417.3,575.4 414.4,572.7 412.0,569.9 C409.5,567.0 407.4,563.9 405.5,560.8 C403.6,557.8 401.9,554.8 400.5,551.8 C399.1,548.7 398.0,545.6 397.1,542.5 C396.3,539.3 395.8,536.2 395.5,533.1 C395.3,530.0 395.4,526.9 395.7,523.9 C396.0,521.0 396.6,518.1 397.4,515.3 C398.1,512.6 399.0,509.9 400.1,507.5 C401.3,505.0 402.6,502.6 404.1,500.5 C405.6,498.3 407.3,496.3 409.1,494.6 C410.9,492.8 412.9,491.3 414.9,489.9 C416.8,488.5 418.9,487.2 420.9,486.2 C423.0,485.2 425.2,484.3 427.3,483.7 C429.4,483.0 431.6,482.6 433.8,482.4 C435.9,482.1 438.0,482.1 440.1,482.3 C442.2,482.4 444.2,482.8 446.2,483.2 C448.1,483.6 450.0,484.1 451.8,484.8 C453.7,485.5 455.4,486.3 457.0,487.3 C458.6,488.3 460.1,489.4 461.5,490.6 C462.9,491.8 464.1,493.1 465.3,494.5 C466.4,495.9 467.3,497.4 468.2,498.9 C469.0,500.4 469.6,502.0 470.2,503.6 C470.7,505.2 471.0,506.9 471.2,508.5 C471.5,510.1 471.5,511.7 471.5,513.3 C471.4,514.9 471.1,516.4 470.8,517.9 C470.4,519.4 469.8,520.8 469.1,522.1 C468.5,523.4 467.7,524.7 466.8,525.8 C466.0,527.0 465.0,528.0 464.0,528.9 C463.0,529.8 462.0,530.6 460.9,531.3 C459.7,531.9 458.5,532.4 457.4,532.8 C456.2,533.2 455.0,533.4 453.8,533.5 C452.6,533.7 451.5,533.7 450.4,533.5 C449.3,533.4 447.8,533.0 447.2,532.9" stroke-width="13" /><path d="M730,618 L695,600 L651.7,576.3 C645.9,580.4 628.3,593.9 617.3,601.0 C606.3,608.2 595.6,613.8 585.7,619.2 C575.8,624.7 566.8,629.4 557.7,633.7 C548.6,637.9 540.0,641.9 531.1,644.7 C522.2,647.4 513.1,649.0 504.3,650.2 C495.6,651.4 487.0,652.2 478.7,652.0 C470.3,651.8 462.1,650.4 454.3,649.3 C446.4,648.2 438.9,646.9 431.5,645.2 C424.1,643.6 416.9,641.8 410.0,639.2 C403.0,636.6 396.3,633.4 390.0,629.7 C383.8,626.0 377.8,621.7 372.3,617.0 C366.9,612.3 361.8,607.1 357.4,601.5 C353.1,596.0 349.6,589.7 346.5,583.4 C343.4,577.2 341.0,570.7 339.1,564.2 C337.2,557.6 336.0,550.9 335.3,544.3 C334.7,537.8 334.5,531.1 335.1,524.7 C335.7,518.3 337.0,511.9 338.9,505.8 C340.7,499.8 343.2,494.0 346.0,488.6 C348.9,483.2 352.2,478.1 355.9,473.5 C359.5,468.9 363.6,464.7 367.8,460.9 C372.1,457.2 376.7,453.8 381.4,451.1 C386.1,448.4 391.2,446.3 396.2,444.6 C401.1,442.9 406.2,441.7 411.2,441.1 C416.1,440.4 421.1,440.2 425.9,440.4 C430.7,440.7 435.4,441.7 439.8,442.5 C444.2,443.3 448.4,444.3 452.5,445.5 C456.6,446.6 460.6,447.9 464.3,449.6 C468.1,451.2 471.7,453.3 475.0,455.5 C478.3,457.8 481.4,460.4 484.1,463.1 C486.9,465.9 489.4,468.9 491.7,471.9 C493.9,475.0 496.0,478.2 497.7,481.5 C499.4,484.8 500.8,488.2 501.8,491.7 C502.9,495.2 503.6,498.8 504.1,502.3 C504.5,505.8 504.7,509.4 504.4,512.8 C504.1,516.3 503.4,519.8 502.5,523.0 C501.5,526.3 500.2,529.5 498.6,532.4 C497.1,535.3 495.3,538.1 493.4,540.6 C491.4,543.1 489.2,545.4 486.9,547.4 C484.6,549.5 482.1,551.3 479.6,552.8 C477.1,554.4 474.4,555.6 471.7,556.6 C469.1,557.6 466.3,558.4 463.6,558.8 C460.9,559.3 458.2,559.5 455.6,559.5 C453.0,559.5 450.4,559.2 447.9,558.7 C445.5,558.2 443.1,557.5 440.8,556.6 C438.6,555.7 436.5,554.6 434.6,553.3 C432.7,552.1 430.9,550.7 429.3,549.2 C427.7,547.7 426.3,546.0 425.1,544.3 C423.9,542.7 423.0,540.9 422.1,539.1 C421.2,537.4 420.4,535.7 419.9,533.9 C419.3,532.2 419.0,530.4 418.8,528.7 C418.5,527.0 418.5,525.2 418.6,523.6 C418.7,521.9 419.1,520.3 419.4,518.8 C419.8,517.3 420.3,515.8 420.8,514.5 C421.3,513.1 422.0,511.8 422.7,510.6 C423.4,509.4 424.2,508.3 425.1,507.3 C426.0,506.3 427.5,505.1 428.0,504.7" stroke-width="13" /></g></svg></div>
<div class="ci ic-card" style="left:558.00px;top:652.80px;background:#85c275;box-shadow:0 0 0 1.6px rgba(133,194,117,0.16)"><svg width="78" height="78" viewBox="-3.0 -3.0 780 780"><g fill="none" stroke="#f2ffe8" stroke-linejoin="round" stroke-linecap="round"><path d="M295,425 L162,418 Q135,415 143,392 L240,118 Q248,100 268,100 L490,100 Q505,100 511,116 L607,395 Q614,425 588,426 L400,430" stroke-width="15" /><path d="M415,106 L478,425" stroke-width="15" /><path d="M455,106 L545,428" stroke-width="15" /><path d="M200,760 C205,650 240,560 290,470 L295,290 Q300,240 340,240 Q378,240 380,290 L385,430 Q388,448 410,448 L548,452 Q585,455 585,500 L583,590 Q585,650 605,760" stroke-width="15" /></g></svg></div>
<div class="ci ic-arrow" style="left:653.50px;top:652.80px;background:#e8c18c;box-shadow:0 0 0 1.6px rgba(232,193,140,0.16)"><svg width="78" height="78" viewBox="-10.0 -3.0 780 780"><g fill="none" stroke="#fff6e8" stroke-linejoin="round" stroke-linecap="round"><circle cx="265" cy="305" r="92" fill="#fffaf2" stroke="none"/><path d="M185,279.4 L185,330.6 M239.4,225 L290.6,225 M213,239.0 L213,371.0 M199.0,253 L331.0,253 M241,224.5 L241,385.5 M184.5,281 L345.5,281 M269,221.1 L269,388.9 M181.1,309 L348.9,309 M297,227.3 L297,382.7 M187.3,337 L342.7,337 M325,246.2 L325,363.8 M206.2,365 L323.8,365" stroke="#f1dcc0" stroke-width="5"/><path d="M385,250 C370,170 300,150 240,165 C170,185 140,270 155,360 C170,450 240,495 320,497 L430,495" stroke-width="15" /><path d="M385,250 C375,180 320,140 250,148 C150,158 95,250 100,340 C105,450 200,560 330,585 L455,597" stroke-width="15" /><path d="M430,495 L425,445 L662,487 L465,635 L455,597" stroke-width="15" /></g></svg></div>
<div class="pct" style="left:747.8px;top:585px"><div class="n" style="top:90.1px">8<svg class="one" width="8.4" height="15.0" viewBox="0 0 8.4 15.0"><path d="M4.3,0 L7.6,0 L7.6,15.0 L4.3,15.0 L4.3,4.6 Q2.9,5.7 1.0,6.3 L1.0,3.7 Q3.2,2.6 4.3,0 Z" fill="#111"/></svg><span class="pc">%</span></div><div class="l" style="top:111.6px">incidents</div></div>
<svg class="rg" width="859" height="770" viewBox="0 0 859 770"><path d="M354.00,78.80 A37.3,37.3 0 1 1 336.03,83.41" fill="none" stroke="#8e8e8e" stroke-width="7.0"/><path d="M788.30,78.80 A37.3,37.3 0 1 1 755.61,134.07" fill="none" stroke="#8e8e8e" stroke-width="7.0"/><path d="M354.00,270.80 A37.3,37.3 0 1 1 328.47,280.91" fill="none" stroke="#8e8e8e" stroke-width="7.0"/><path d="M788.30,270.80 A37.3,37.3 0 1 1 753.62,294.37" fill="none" stroke="#8e8e8e" stroke-width="7.0"/><path d="M354.00,462.80 A37.3,37.3 0 1 1 332.08,469.92" fill="none" stroke="#8e8e8e" stroke-width="7.0"/><path d="M788.30,462.80 A37.3,37.3 0 1 1 779.02,463.97" fill="none" stroke="#8e8e8e" stroke-width="7.0"/><path d="M354.00,654.80 A37.3,37.3 0 1 1 319.32,678.37" fill="none" stroke="#8e8e8e" stroke-width="7.0"/><path d="M788.30,654.80 A37.3,37.3 0 1 1 753.62,678.37" fill="none" stroke="#8e8e8e" stroke-width="7.0"/></svg>
</body></html>
